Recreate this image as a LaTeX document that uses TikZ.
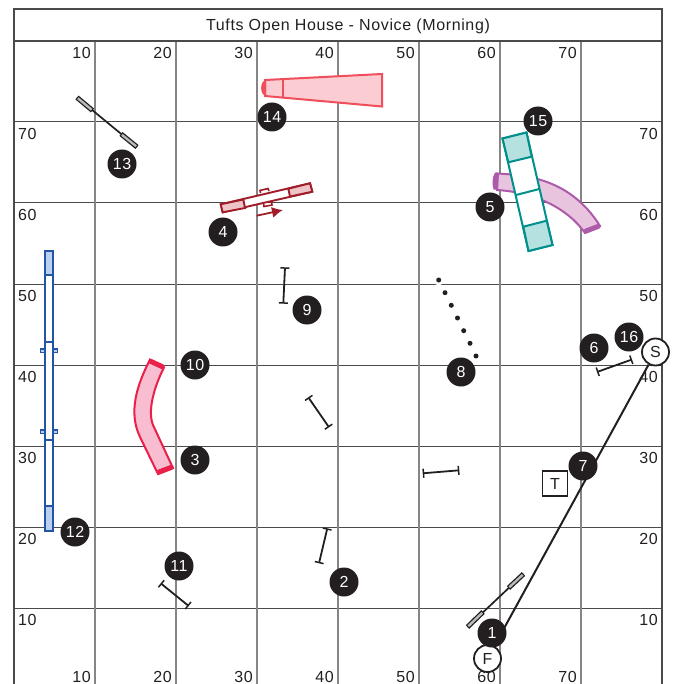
\documentclass[tikz,border=0pt]{standalone}
\usepackage{fontspec}
\setmainfont[LetterSpace=4]{Liberation Sans}
\usetikzlibrary{arrows.meta}
\definecolor{ink}{HTML}{231F20}
\definecolor{gridh}{HTML}{4A4A4A}
\definecolor{gridv}{HTML}{858585}
\definecolor{teal1}{HTML}{008F8C}\definecolor{teal2}{HTML}{B5E2E0}
\definecolor{pur1}{HTML}{AE5AAB}\definecolor{pur2}{HTML}{E8C4DE}
\definecolor{rosa1}{HTML}{F04E5A}\definecolor{rosa2}{HTML}{FBCCD2}
\definecolor{red1}{HTML}{E8204A}\definecolor{red2}{HTML}{F8BDD0}
\definecolor{brn1}{HTML}{A01C28}\definecolor{brn2}{HTML}{EFC4C6}
\definecolor{blu1}{HTML}{2255A8}\definecolor{blu2}{HTML}{BBD0EC}
\tikzset{
  x=1pt,y=-1pt,
  lab/.style={font=\fontsize{16}{16}\selectfont,text=ink,inner sep=0pt},
  labR/.style={lab,anchor=east},
  labL/.style={lab,anchor=west},
  num/.style={circle,fill=ink,draw=none,minimum size=29pt,inner sep=0pt,text=white,font=\fontsize{16}{16}\selectfont},
  sf/.style={circle,fill=white,draw=ink,line width=1.8pt,minimum size=27pt,inner sep=0pt,text=ink,font=\fontsize{16}{16}\selectfont},
  tbox/.style={rectangle,fill=white,draw=ink,line width=1.9pt,minimum size=25pt,inner sep=0pt,text=ink,font=\fontsize{16}{16}\selectfont},
  jumpbar/.style={draw=ink,line width=1.8pt,{Bar[width=9pt,line width=1.5pt]}-{Bar[width=9pt,line width=1.5pt]}},
  wingline/.style={draw=ink,line width=1.7pt},
  wingpanel/.style={draw=ink,line width=5pt,line cap=butt},
  wingfill/.style={draw=gray!55,line width=2.4pt,line cap=butt},
  pole/.style={circle,fill=ink,minimum size=5pt,inner sep=0pt},
  halo/.style={circle,fill=white,minimum size=11pt,inner sep=0pt},
}
\begin{document}
\begin{tikzpicture}
\useasboundingbox (0,0) rectangle (678,684);
% grid
\foreach \yy in {122,203,284,365,446,527,608}
  \draw[gridh,line width=1pt] (14,\yy) -- (662,\yy);
\foreach \xx in {95,176,257,338,419,500,581}
  \draw[gridv,line width=1.4pt] (\xx,41) -- (\xx,684);
\draw[gridh,line width=1.5pt] (14,684) -- (14,9) -- (662,9) -- (662,684);
\draw[gridh,line width=1.5pt] (14,41) -- (662,41);
\node[lab] (title) at (348,26) {Tufts Open House - Novice (Morning)};
% scale labels
\foreach \xx/\tt in {91/10,172/20,253/30,334/40,415/50,496/60,577/70}{
  \node[labR] at (\xx,53) {\tt};
  \node[labR] at (\xx,676.5) {\tt};
}
\foreach \yy/\tt in {134/70,215/60,296/50,377/40,458/30,539/20,620/10}{
  \node[labL] at (18,\yy) {\tt};
  \node[labR] at (658,\yy) {\tt};
}
% 13 wing jump
\coordinate (w13a) at (77,97.5); \coordinate (w13b) at (137,147);
\draw[wingline] (w13a) -- (w13b);
\draw[wingpanel] (w13a) -- (92.5,110.5); \draw[wingfill] (77.9,98.3) -- (91.6,109.7);
\draw[wingpanel] (121,134) -- (w13b); \draw[wingfill] (121.9,134.8) -- (136.1,146.2);
% 1 wing jump
\coordinate (w1a) at (467.5,627); \coordinate (w1b) at (523.5,574);
\draw[wingline] (w1a) -- (w1b);
\draw[wingpanel] (w1a) -- (483,612); \draw[wingfill] (468.3,626.2) -- (482.2,612.8);
\draw[wingpanel] (508.5,588) -- (w1b); \draw[wingfill] (509.3,587.2) -- (522.7,574.8);
% tunnel 14
\draw[rosa1,line width=2pt,fill=rosa2] (265,80) -- (382,74) -- (382,106.5) -- (265,96) -- cycle;
\draw[rosa1,line width=2pt] (283,79.5) -- (283,97);
\fill[rosa1] (266,79.5) .. controls (259.5,82) and (259.5,94) .. (266,96.5) -- cycle;
% tunnel 3/10
\draw[red1,line width=2pt,fill=red2] (150,359.5) .. controls (137,385) and (128,412) .. (140,437) -- (158,474) -- (173,468) -- (153,425) .. controls (147,410) and (155,385) .. (164,367.5) -- cycle;
\draw[red1,line width=5pt,line cap=round] (151,361.5) -- (162,366.5);
\draw[red1,line width=5pt,line cap=round] (159,472) -- (171,467.5);
% tunnel 5
\draw[pur1,line width=2pt,fill=pur2] (497,173.5) .. controls (525,175) and (570,178) .. (600,226) -- (585,233) .. controls (565,205) and (530,192) .. (497,190) -- cycle;
\fill[pur1] (499,173) -- (495,172.5) .. controls (492,178) and (492,184) .. (493.5,189.5) -- (498,190) -- cycle;
\draw[pur1,line width=5pt,line cap=round] (586,231) -- (598,226.5);
% A-frame 15
\coordinate (a1) at (502.5,138.5); \coordinate (a2) at (526.5,132.5);
\coordinate (a3) at (552.5,245); \coordinate (a4) at (528.5,251);
\coordinate (b1) at (508.3,162.3); \coordinate (b2) at (531.7,156.7);
\coordinate (c1) at (516,195); \coordinate (c2) at (539.3,189);
\coordinate (d1) at (523.3,226.7); \coordinate (d2) at (546.7,220.7);
\draw[teal1,line width=2pt,fill=white] (a1) -- (a2) -- (a3) -- (a4) -- cycle;
\draw[teal1,line width=2pt,fill=teal2] (a1) -- (a2) -- (b2) -- (b1) -- cycle;
\draw[teal1,line width=2pt,fill=teal2] (d1) -- (d2) -- (a3) -- (a4) -- cycle;
\draw[teal1,line width=2pt] (c1) -- (c2);
% seesaw 4
\coordinate (s1) at (220.7,204.3); \coordinate (s2) at (310,183.3);
\coordinate (s3) at (312.3,191.7); \coordinate (s4) at (222.7,212.3);
\coordinate (s5) at (243.3,199.5); \coordinate (s6) at (245,208);
\coordinate (s7) at (288.3,188.7); \coordinate (s8) at (290,196.5);
\draw[brn1,line width=1.9pt,fill=white] (s1) -- (s2) -- (s3) -- (s4) -- cycle;
\draw[brn1,line width=1.9pt,fill=brn2] (s1) -- (s5) -- (s6) -- (s4) -- cycle;
\draw[brn1,line width=1.9pt,fill=brn2] (s7) -- (s2) -- (s3) -- (s8) -- cycle;
\draw[brn1,line width=1.6pt] (260.5,193) -- (260,190.5) -- (268,188.5) -- (269,191);
\draw[brn1,line width=1.6pt] (263.5,203.5) -- (264,206.5) -- (272,205) -- (271.5,202);
\coordinate (ar1) at (256.7,215.7); \coordinate (ar2) at (283,210);
\draw[brn1,line width=1.8pt,-{Latex[length=11pt,width=11pt]}] (ar1) -- (ar2);
% dogwalk 12
\draw[blu1,line width=2pt,fill=white] (45,251) rectangle (53,531);
\draw[blu1,line width=2pt,fill=blu2] (45,251) rectangle (53,275);
\draw[blu1,line width=2pt,fill=blu2] (45,506) rectangle (53,531);
\draw[blu1,line width=1.3pt] (45,342) -- (53,342);
\draw[blu1,line width=1.3pt] (45,440) -- (53,440);
\draw[blu1,line width=1.4pt,fill=blu2] (40.5,349) rectangle (45,352.5) (53,349) rectangle (57.5,352.5);
\draw[blu1,line width=1.4pt,fill=blu2] (40.5,430) rectangle (45,433.5) (53,430) rectangle (57.5,433.5);
% jumps
\coordinate (j9a) at (285,267.3); \coordinate (j9b) at (283.3,303.7);
\draw[jumpbar] (j9a) -- (j9b);
\coordinate (jaa) at (308.3,397.3); \coordinate (jab) at (329,427.3);
\draw[jumpbar] (jaa) -- (jab);
\coordinate (jba) at (422.7,473.3); \coordinate (jbb) at (459.3,470.3);
\draw[jumpbar] (jba) -- (jbb);
\coordinate (j2a) at (327.3,528.3); \coordinate (j2b) at (319,563.3);
\draw[jumpbar] (j2a) -- (j2b);
\coordinate (j11a) at (160.7,583.3); \coordinate (j11b) at (188.7,606);
\draw[jumpbar] (j11a) -- (j11b);
\coordinate (j6a) at (597,372); \coordinate (j6b) at (632,359.5);
\draw[jumpbar] (j6a) -- (j6b);
% weave 8
\foreach \xx/\yy in {438.7/280,445/292.7,451.3/305.3,457.5/318,463.7/330.7,470/343.3,476/356}{
  \node[halo] at (\xx,\yy) {};
}
\foreach \xx/\yy in {438.7/280,445/292.7,451.3/305.3,457.5/318,463.7/330.7,470/343.3,476/356}{
  \node[pole] at (\xx,\yy) {};
}
% start finish and course line
\node[sf] (S) at (655.5,352) {S};
\node[sf] (F) at (487.5,658.5) {F};
\draw[ink,line width=2pt] (S) -- (F);
\node[tbox] (T) at (555,483.5) {T};
% numbers
\node[num] (n1) at (492,633) {1};
\node[num] (n2) at (344,582) {2};
\node[num] (n3) at (195,460) {3};
\node[num] (n4) at (223,232) {4};
\node[num] (n5) at (490,207) {5};
\node[num] (n6) at (594,348) {6};
\node[num] (n7) at (583,466) {7};
\node[num] (n8) at (461,372) {8};
\node[num] (n9) at (307,310) {9};
\node[num] (n10) at (195,365) {10};
\node[num] (n11) at (179,566) {11};
\node[num] (n12) at (75,532) {12};
\node[num] (n13) at (122,164) {13};
\node[num] (n14) at (272,117) {14};
\node[num] (n15) at (538,121) {15};
\node[num] (n16) at (629,337) {16};
\end{tikzpicture}
\end{document}
